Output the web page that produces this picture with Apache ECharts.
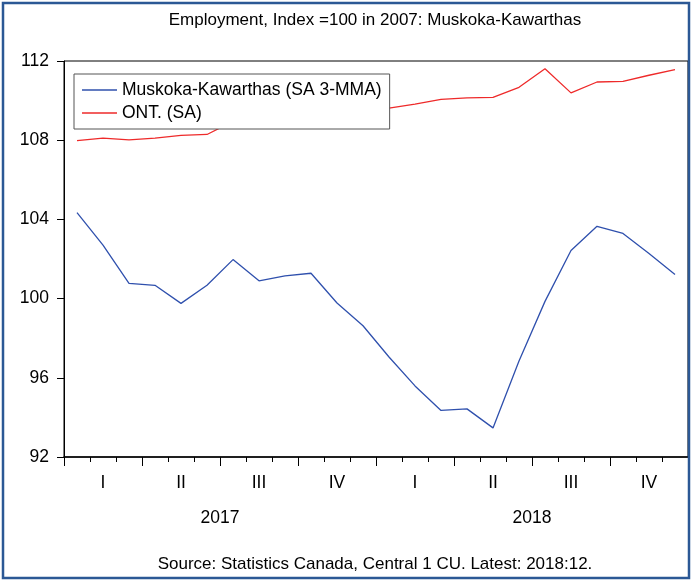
<!DOCTYPE html>
<html lang="en">
<head>
    <meta charset="UTF-8">
    <title>Employment Muskoka-Kawarthas</title>
    <script src="https://cdn.jsdelivr.net/npm/echarts@6.0.0/dist/echarts.min.js"></script>
    <style>
        body {
            margin: 0;
            background-color: #fff;
        }

        #chart {
            width: 691px;
            height: 581px;
        }
    </style>
</head>
<body>
    <div id="chart"></div>

    <script>
        // monthly data, 2017:01 - 2018:12
        const months = [
            '2017:01', '2017:02', '2017:03', '2017:04', '2017:05', '2017:06',
            '2017:07', '2017:08', '2017:09', '2017:10', '2017:11', '2017:12',
            '2018:01', '2018:02', '2018:03', '2018:04', '2018:05', '2018:06',
            '2018:07', '2018:08', '2018:09', '2018:10', '2018:11', '2018:12'
        ];
        const quarters = ['I', 'II', 'III', 'IV', 'I', 'II', 'III', 'IV'];
        const years = ['2017', '2018'];

        const muskoka = [
            104.34, 102.70, 100.77, 100.67, 99.76, 100.67,
            101.97, 100.90, 101.15, 101.28, 99.78, 98.63,
            97.05, 95.59, 94.35, 94.43, 93.47, 96.85,
            99.86, 102.43, 103.65, 103.29, 102.28, 101.22
        ];
        const ontario = [
            107.98, 108.10, 108.02, 108.10, 108.24, 108.29,
            108.95, 109.15, 109.28, 109.40, 109.48, 109.55,
            109.62, 109.82, 110.06, 110.14, 110.16, 110.67,
            111.61, 110.39, 110.94, 110.97, 111.28, 111.56
        ];

        const yTicks = { min: 92, max: 112, step: 4 };

        const font = 'Liberation Sans, Arial, sans-serif';
        const chart = echarts.init(document.getElementById('chart'));

        const option = {
            animation: false,
            // blue frame round the whole picture
            graphic: [{
                type: 'rect',
                z: 100,
                silent: true,
                shape: { x: 3, y: 3, width: 686, height: 575 },
                style: { fill: 'none', stroke: '#2b5895', lineWidth: 2.5 }
            }],
            title: [
                {
                    text: 'Employment, Index =100 in 2007: Muskoka-Kawarthas',
                    left: 370,
                    top: 7,
                    textAlign: 'center',
                    textStyle: { fontFamily: font, fontSize: 17, fontWeight: 'normal', color: '#000' }
                },
                {
                    text: 'Source: Statistics Canada, Central 1 CU. Latest: 2018:12.',
                    left: 370,
                    top: 551,
                    textAlign: 'center',
                    textStyle: { fontFamily: font, fontSize: 17, fontWeight: 'normal', color: '#000' }
                }
            ],
            legend: {
                left: 74,
                top: 74,
                orient: 'vertical',
                icon: 'rect',
                itemWidth: 35,
                itemHeight: 1.5,
                itemGap: 5,
                padding: [7, 8, 7, 8],
                borderColor: '#555',
                borderWidth: 1,
                backgroundColor: '#fff',
                textStyle: { fontFamily: font, fontSize: 17.5, color: '#000' },
                data: ['Muskoka-Kawarthas (SA 3-MMA)', 'ONT. (SA)']
            },
            grid: {
                left: 64,
                top: 61,
                right: 3,
                bottom: 124,
                outerBoundsMode: 'none',
                show: true,
                borderColor: '#000',
                borderWidth: 1
            },
            xAxis: [
                {
                    type: 'category',
                    position: 'bottom',
                    data: months,
                    boundaryGap: true,
                    axisLine: { show: true, lineStyle: { color: '#000', width: 1.5 } },
                    axisTick: { show: true, interval: 0, length: 5, lineStyle: { color: '#000' } },
                    axisLabel: { show: false }
                },
                {
                    type: 'category',
                    position: 'bottom',
                    data: quarters,
                    boundaryGap: true,
                    axisLine: { show: false },
                    axisTick: { show: true, interval: 0, length: 9, lineStyle: { color: '#000' } },
                    axisLabel: { interval: 0, margin: 17, fontFamily: font, fontSize: 17.5, color: '#000' }
                },
                {
                    type: 'category',
                    position: 'bottom',
                    data: years,
                    boundaryGap: true,
                    axisLine: { show: false },
                    axisTick: { show: false },
                    axisLabel: { interval: 0, margin: 52, fontFamily: font, fontSize: 17.5, color: '#000' }
                }
            ],
            yAxis: {
                type: 'value',
                min: yTicks.min,
                max: yTicks.max,
                interval: yTicks.step,
                splitLine: { show: false },
                axisLine: { show: true, lineStyle: { color: '#000' } },
                axisTick: { show: true, length: 7, lineStyle: { color: '#000' } },
                axisLabel: { margin: 15, fontFamily: font, fontSize: 17.5, color: '#000' }
            },
            series: [
                {
                    name: 'Muskoka-Kawarthas (SA 3-MMA)',
                    type: 'line',
                    data: muskoka,
                    symbol: 'none',
                    color: '#2f50ad',
                    lineStyle: { width: 1.3 }
                },
                {
                    name: 'ONT. (SA)',
                    type: 'line',
                    data: ontario,
                    symbol: 'none',
                    color: '#ee2a2a',
                    lineStyle: { width: 1.3 }
                }
            ]
        };
        chart.setOption(option);
    </script>
</body>
</html>
